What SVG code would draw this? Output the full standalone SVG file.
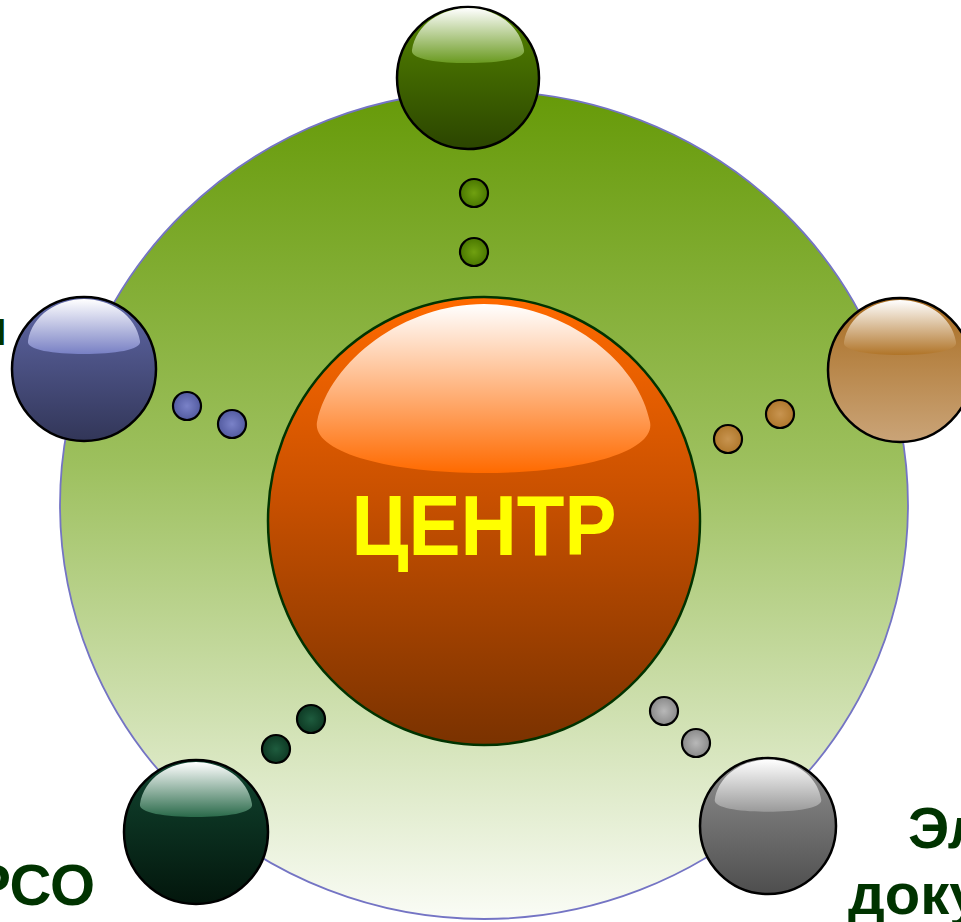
<svg xmlns="http://www.w3.org/2000/svg" width="961" height="922" viewBox="0 0 961 922">
<style>
.sph{stroke:#000;stroke-width:2.5}
.dot{stroke:#000;stroke-width:2.2}
.lbl{font-family:"Liberation Sans",Arial,sans-serif;font-weight:bold;fill:#003300}
</style>
<defs>
<linearGradient id="gBig" x1="0" y1="0" x2="0" y2="1">
<stop offset="0" stop-color="#669a08"/>
<stop offset="0.45" stop-color="#9dc05e"/>
<stop offset="0.75" stop-color="#cfe0b0"/>
<stop offset="1" stop-color="#fafcf6"/>
</linearGradient>
<linearGradient id="gCenter" x1="0" y1="0" x2="0" y2="1">
<stop offset="0" stop-color="#ff6a00"/>
<stop offset="0.45" stop-color="#c85000"/>
<stop offset="1" stop-color="#7a3200"/>
</linearGradient>
<linearGradient id="hCenter" x1="0" y1="0" x2="0" y2="1">
<stop offset="0" stop-color="#ffffff"/>
<stop offset="1" stop-color="#ff6a00"/>
</linearGradient>
<linearGradient id="gGreen" x1="0" y1="0" x2="0" y2="1"><stop offset="0" stop-color="#558500"/><stop offset="1" stop-color="#2b4500"/></linearGradient>
<linearGradient id="hGreen" x1="0" y1="0" x2="0" y2="1"><stop offset="0" stop-color="#ffffff"/><stop offset="1" stop-color="#6a9a20"/></linearGradient>
<linearGradient id="gBlue" x1="0" y1="0" x2="0" y2="1"><stop offset="0" stop-color="#6068a8"/><stop offset="1" stop-color="#323658"/></linearGradient>
<linearGradient id="hBlue" x1="0" y1="0" x2="0" y2="1"><stop offset="0" stop-color="#ffffff"/><stop offset="1" stop-color="#7880c4"/></linearGradient>
<linearGradient id="gBrown" x1="0" y1="0" x2="0" y2="1"><stop offset="0" stop-color="#a86c20"/><stop offset="1" stop-color="#caa478"/></linearGradient>
<linearGradient id="hBrown" x1="0" y1="0" x2="0" y2="1"><stop offset="0" stop-color="#ffffff"/><stop offset="1" stop-color="#b07428"/></linearGradient>
<linearGradient id="gDark" x1="0" y1="0" x2="0" y2="1"><stop offset="0" stop-color="#114530"/><stop offset="1" stop-color="#03160c"/></linearGradient>
<linearGradient id="hDark" x1="0" y1="0" x2="0" y2="1"><stop offset="0" stop-color="#ffffff"/><stop offset="1" stop-color="#2a6a4a"/></linearGradient>
<linearGradient id="gGray" x1="0" y1="0" x2="0" y2="1"><stop offset="0" stop-color="#909090"/><stop offset="1" stop-color="#4e4e4e"/></linearGradient>
<linearGradient id="hGray" x1="0" y1="0" x2="0" y2="1"><stop offset="0" stop-color="#ffffff"/><stop offset="1" stop-color="#9a9a9a"/></linearGradient>
<radialGradient id="dGreen"><stop offset="0" stop-color="#70a010"/><stop offset="1" stop-color="#4a7800"/></radialGradient>
<radialGradient id="dBlue"><stop offset="0" stop-color="#7a82c8"/><stop offset="1" stop-color="#535ba0"/></radialGradient>
<radialGradient id="dBrown"><stop offset="0" stop-color="#c89450"/><stop offset="1" stop-color="#b0782c"/></radialGradient>
<radialGradient id="dGray"><stop offset="0" stop-color="#b8b8b8"/><stop offset="1" stop-color="#8a8a8a"/></radialGradient>
<radialGradient id="dDark"><stop offset="0" stop-color="#1e5c3e"/><stop offset="1" stop-color="#0e3a24"/></radialGradient>
<path id="hl" d="M-56,-28 C-52,-54 -26,-70 0,-70 C26,-70 52,-54 56,-28 C58,-19 30,-15 0,-15 C-30,-15 -58,-19 -56,-28 Z"/>
</defs>

<g id="ring">
<ellipse cx="484" cy="505" rx="424" ry="414" fill="url(#gBig)" stroke="#7474c4" stroke-width="1.8"/>
</g>

<g id="center">
<ellipse cx="484" cy="521" rx="216" ry="224" fill="url(#gCenter)" stroke="#003300" stroke-width="2.5"/>
<path d="M317,422 C330,360 405,304 484,304 C563,304 638,360 650,422 C656,452 580,473 484,473 C388,473 312,452 317,422 Z" fill="url(#hCenter)"/>
<text x="484" y="555" text-anchor="middle" textLength="265" lengthAdjust="spacingAndGlyphs" font-family="Liberation Sans, Arial, sans-serif" font-weight="bold" font-size="86" fill="#ffff00">ЦЕНТР</text>
</g>

<g id="node-top" transform="translate(468,78)">
<circle r="71" class="sph" fill="url(#gGreen)"/>
<use href="#hl" fill="url(#hGreen)"/>
</g>
<g id="node-left" transform="translate(84,369)">
<circle r="72" class="sph" fill="url(#gBlue)"/>
<use href="#hl" fill="url(#hBlue)"/>
</g>
<g id="node-right" transform="translate(900,370)">
<circle r="72" class="sph" fill="url(#gBrown)"/>
<use href="#hl" fill="url(#hBrown)"/>
</g>
<g id="node-bottom-left" transform="translate(196,832)">
<circle r="72" class="sph" fill="url(#gDark)"/>
<use href="#hl" fill="url(#hDark)"/>
</g>
<g id="node-bottom-right" transform="translate(768,826)">
<circle r="68" class="sph" fill="url(#gGray)"/>
<use href="#hl" transform="scale(0.95)" fill="url(#hGray)"/>
</g>

<g id="connectors">
<circle cx="474" cy="193" r="14" class="dot" fill="url(#dGreen)"/>
<circle cx="474" cy="252" r="14" class="dot" fill="url(#dGreen)"/>
<circle cx="187" cy="406" r="14" class="dot" fill="url(#dBlue)"/>
<circle cx="232" cy="424" r="14" class="dot" fill="url(#dBlue)"/>
<circle cx="728" cy="439" r="14" class="dot" fill="url(#dBrown)"/>
<circle cx="780" cy="414" r="14" class="dot" fill="url(#dBrown)"/>
<circle cx="664" cy="711" r="14" class="dot" fill="url(#dGray)"/>
<circle cx="696" cy="743" r="14" class="dot" fill="url(#dGray)"/>
<circle cx="311" cy="719" r="14" class="dot" fill="url(#dDark)"/>
<circle cx="276" cy="749" r="14" class="dot" fill="url(#dDark)"/>
</g>

<g id="labels">
<text class="lbl" x="7" y="345" text-anchor="end" font-size="48">и</text>
<text class="lbl" x="95" y="905" text-anchor="end" font-size="58">РСО</text>
<text class="lbl" x="908" y="848" font-size="58">Эл</text>
<text class="lbl" x="848" y="914" font-size="58">доку</text>
</g>
</svg>
